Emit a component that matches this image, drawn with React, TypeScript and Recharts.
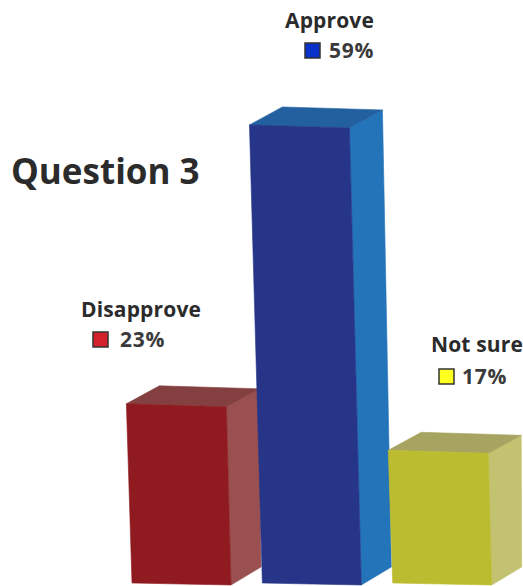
import { BarChart, Bar, XAxis, YAxis, Cell } from 'recharts';

const CATEGORIES = ['Disapprove', 'Approve', 'Not sure'];
const VALUES = [23, 59, 17];
const FRONT_COLORS = ['#8f1b20', '#273588', '#bcbc30'];
const TOP_COLORS = ['#844040', '#2260a0', '#a6a460'];
const SIDE_COLORS = ['#9a5050', '#2474ba', '#c2c270'];
const SWATCH_COLORS = ['#d2202c', '#0a32c8', '#ffff20'];

const chartData = CATEGORIES.map((name, i) => ({ name, value: VALUES[i] }));

const LEAN = 0.026;
const DEPTH_X = 33;
const DEPTH_Y = 18;
const FONT = '"Open Sans", sans-serif';

function pts(list: number[][]) {
  return list.map((p) => p.join(',')).join(' ');
}

function Box3D(props: any) {
  const { x, y, width, height, index } = props;
  const lean = height * LEAN;
  const base = y + height;
  const tl = [x - lean, y - 3];
  const tr = [x + width - lean, y];
  const br = [x + width, base];
  const bl = [x + 1, base - 2];
  const backTl = [tl[0] + DEPTH_X, tl[1] - DEPTH_Y];
  const backTr = [tr[0] + DEPTH_X, tr[1] - DEPTH_Y];
  const backBr = [br[0] + DEPTH_X - 3, br[1] - DEPTH_Y];
  return (
    <g strokeWidth={0.6} strokeLinejoin="round">
      <polygon points={pts([tr, backTr, backBr, br])} fill={SIDE_COLORS[index]} stroke={SIDE_COLORS[index]} />
      <polygon points={pts([tl, backTl, backTr, tr])} fill={TOP_COLORS[index]} stroke={TOP_COLORS[index]} />
      <polygon points={pts([tl, tr, br, bl])} fill={FRONT_COLORS[index]} stroke={FRONT_COLORS[index]} />
    </g>
  );
}

function Tag({ name, pct, nameX, nameY, boxX, boxY, pctX, color }: any) {
  return (
    <g fontFamily={FONT} fontWeight={700} fill="#2b2b2b">
      <text x={nameX} y={nameY} fontSize={21} letterSpacing={0.15}>{name}</text>
      <rect x={boxX} y={boxY} width={15} height={15} fill={color} stroke="#333" strokeWidth={1.5} />
      <text x={pctX} y={boxY + 15} fontSize={21} letterSpacing={0.8} fill="#3a3a3a">{pct}</text>
    </g>
  );
}

export default function App() {
  return (
    <div style={{ position: 'absolute', left: 0, top: 0, width: 523, height: 586 }}>
      <BarChart
        width={523}
        height={586}
        data={chartData}
        margin={{ top: 4, right: 16, bottom: 1, left: 116 }}
      >
        <XAxis dataKey="name" hide />
        <YAxis hide domain={[0, 75]} />
        <Bar dataKey="value" barSize={100} shape={<Box3D />} isAnimationActive={false}>
          {chartData.map((d, i) => (
            <Cell key={d.name} fill={FRONT_COLORS[i]} />
          ))}
        </Bar>
        <text x={11} y={184} fontFamily={FONT} fontWeight={700} fontSize={35} fill="#2b2b2b">
          Question 3
        </text>
        <Tag name={CATEGORIES[0]} pct={`${VALUES[0]}%`} nameX={81} nameY={317} boxX={93} boxY={332} pctX={120} color={SWATCH_COLORS[0]} />
        <Tag name={CATEGORIES[1]} pct={`${VALUES[1]}%`} nameX={285} nameY={28} boxX={305} boxY={43} pctX={329} color={SWATCH_COLORS[1]} />
        <Tag name={CATEGORIES[2]} pct={`${VALUES[2]}%`} nameX={431} nameY={352} boxX={439} boxY={369} pctX={462} color={SWATCH_COLORS[2]} />
      </BarChart>
    </div>
  );
}
